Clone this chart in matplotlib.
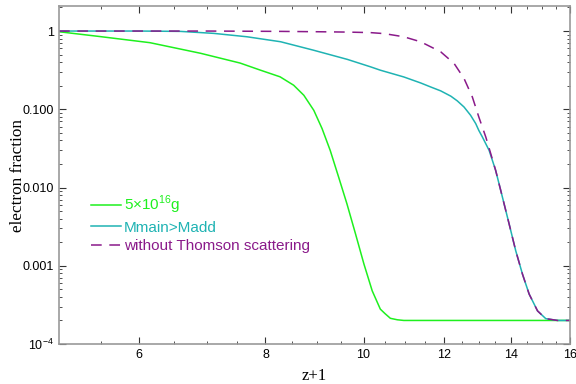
import matplotlib
matplotlib.use('Agg')
import matplotlib.pyplot as plt
from matplotlib.ticker import FixedLocator, NullFormatter, LogLocator

# data (z+1, electron fraction)
z_green = [5.0, 5.49, 6.15, 6.9, 7.55, 7.91, 8.27, 8.53, 8.73, 8.93, 9.10, 9.27,
           9.45, 9.63, 9.82, 10.01, 10.20, 10.39, 10.5, 10.63, 10.8, 10.96, 11.39, 16.0]
x_green = [0.98, 0.85, 0.71, 0.52, 0.39, 0.316, 0.26, 0.203, 0.151, 0.097, 0.0566, 0.0298,
           0.01355, 0.00618, 0.00255, 0.00105, 0.000478, 0.000279, 0.000245, 0.000213,
           0.000204, 0.0002, 0.0002, 0.0002]

z_cyan = [5.0, 6.0, 6.59, 7.11, 7.67, 8.28, 8.92, 9.64, 10.16, 10.39, 10.96, 11.39,
          11.65, 11.92, 12.20, 12.38, 12.57, 12.76, 12.91, 13.0, 13.11, 13.31, 13.51,
          13.72, 13.93, 14.14, 14.36, 14.58, 14.86, 15.14, 15.55, 16.0]
x_cyan = [1.0, 1.0, 0.99, 0.934, 0.845, 0.73, 0.57, 0.434, 0.349, 0.316, 0.259, 0.217,
          0.193, 0.172, 0.147, 0.128, 0.107, 0.0838, 0.0656, 0.0538, 0.044, 0.0298, 0.0165,
          0.0075, 0.00342, 0.00156, 0.00078, 0.000434, 0.000265, 0.000211, 0.0002, 0.0002]

z_purple = [5.0, 7.0, 8.28, 9.0, 9.64, 10.16, 10.39, 10.55, 10.96, 11.39, 11.92, 12.29,
            12.57, 12.81, 13.0, 13.21, 13.36, 13.51, 13.72, 13.93, 14.14, 14.36, 14.58,
            14.86, 15.14, 15.55, 16.0]
x_purple = [1.0, 1.0, 0.99, 0.98, 0.97, 0.955, 0.935, 0.915, 0.845, 0.729, 0.543, 0.385,
            0.248, 0.144, 0.080, 0.0441, 0.027, 0.0165, 0.0075, 0.00342, 0.00156, 0.00078,
            0.000434, 0.000265, 0.000211, 0.0002, 0.0002]

labels = ['5×10$^{16}$g', 'Mmain>Madd', 'without Thomson scattering']
colors = ['#1ef01e', '#1fb3b3', '#8a1a8a']

xticks = [6, 8, 10, 12, 14, 16]
yticks = [1, 0.1, 0.01, 0.001, 0.0001]
ytick_labels = ['1', '0.100', '0.010', '0.001', '10$^{-4}$']

plt.rcParams['font.family'] = ['Liberation Sans', 'DejaVu Sans']
plt.rcParams['mathtext.fontset'] = 'custom'
plt.rcParams['mathtext.rm'] = 'Liberation Sans'

fig = plt.figure(figsize=(5.76, 3.84), dpi=100)
ax = fig.add_axes([59 / 576, 1 - 344 / 384, 511 / 576, 338 / 384])

ax.plot(z_green, x_green, color=colors[0], lw=1.1, label=labels[0])
ax.plot(z_cyan, x_cyan, color=colors[1], lw=1.1, label=labels[1])
ax.plot(z_purple, x_purple, color=colors[2], lw=1.1, dashes=(7, 5), label=labels[2])

ax.set_xscale('log')
ax.set_yscale('log')
ax.set_xlim(5, 16)
ax.set_ylim(1e-4, 2.09)

ax.xaxis.set_major_locator(FixedLocator(xticks))
ax.xaxis.set_minor_locator(FixedLocator([5.5, 6.5, 7, 7.5, 8.5, 9, 9.5, 10.5, 11, 11.5,
                                         12.5, 13, 13.5, 14.5, 15, 15.5]))
ax.set_xticklabels([str(t) for t in xticks])
ax.xaxis.set_minor_formatter(NullFormatter())
ax.yaxis.set_major_locator(FixedLocator(yticks))
ax.set_yticklabels(ytick_labels)
ax.yaxis.set_minor_locator(LogLocator(base=10, subs=range(2, 10), numticks=20))
ax.yaxis.set_minor_formatter(NullFormatter())

for s in ax.spines.values():
    s.set_color('#999999')
    s.set_linewidth(1.2)
ax.tick_params(which='both', direction='in', top=True, right=True, color='#333333',
               labelsize=9)
ax.tick_params(which='major', length=5, width=0.8)
ax.tick_params(which='minor', length=2.5, width=0.6)

ax.set_xlabel('z+1', family='Liberation Serif', fontsize=12, labelpad=5)
ax.set_ylabel('electron fraction', family='Liberation Serif', fontsize=12.3, labelpad=-2)

leg = ax.legend(loc='upper left', bbox_to_anchor=(0.036, 0.485), frameon=False,
                fontsize=11, handlelength=1.95, handletextpad=0.2, labelspacing=0.3,
                labelcolor='linecolor')

fig.savefig('out.png', dpi=100)
